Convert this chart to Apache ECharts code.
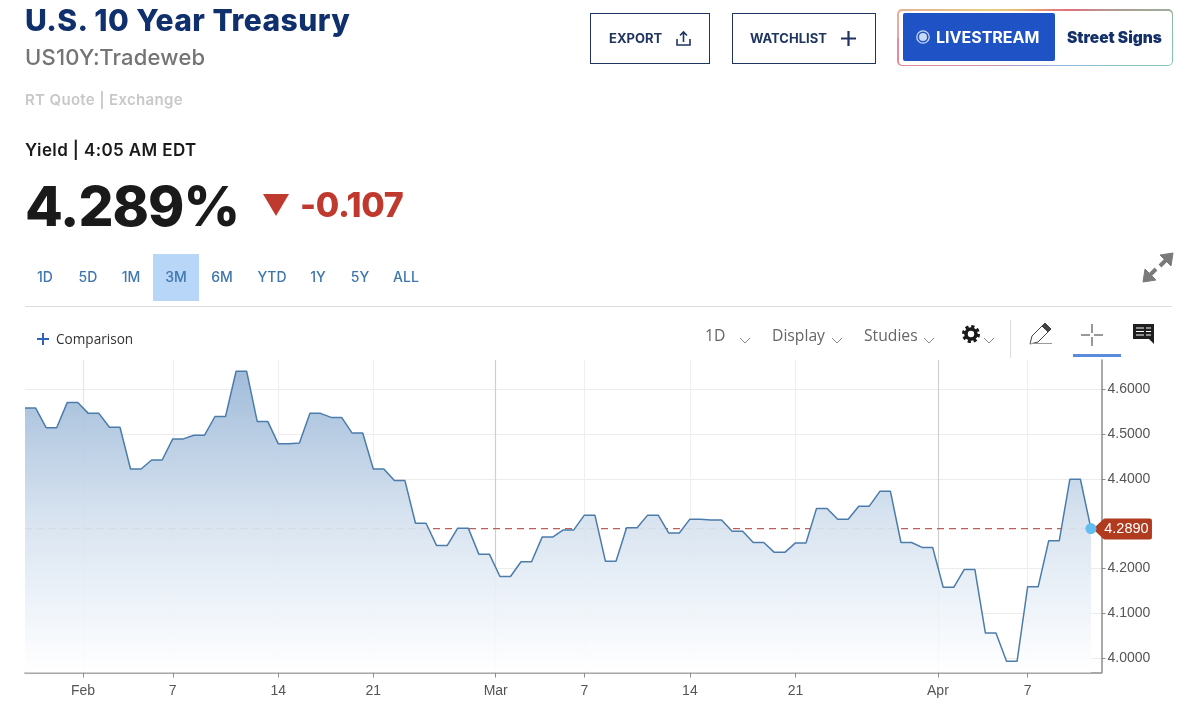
<!DOCTYPE html>
<html>
<head>
<meta charset="utf-8">
<title>U.S. 10 Year Treasury</title>
<script src="https://cdn.jsdelivr.net/npm/echarts@6/dist/echarts.min.js"></script>
<style>
  html, body { margin: 0; padding: 0; background: #fff; }
  #page { position: relative; width: 1200px; height: 714px; overflow: hidden; font-family: Inter, "Noto Sans", sans-serif; }
  #chart { position: absolute; left: 0; top: 0; width: 1200px; height: 714px; }
  .t { position: absolute; white-space: nowrap; line-height: 1; }
  .box { position: absolute; box-sizing: border-box; }
  svg { position: absolute; overflow: visible; }
  .range { position: absolute; top: 270px; font-size: 14px; font-weight: 500; color: #3f76ad; transform: translateX(-50%); line-height: 1; }
  .tool { position: absolute; top: 328px; font-size: 15.7px; color: #666; line-height: 1; font-family: "Open Sans", sans-serif; }
</style>
</head>
<body>
<div id="page">
  <div id="chart"></div>

  <!-- header -->
  <div class="t" style="left:25px;top:5px;font-size:30px;font-weight:800;color:#0f2f6d;letter-spacing:.45px">U.S. 10 Year Treasury</div>
  <div class="t" style="left:25px;top:46px;font-size:22px;font-weight:500;color:#747474;letter-spacing:.2px">US10Y:Tradeweb</div>
  <div class="t" style="left:25px;top:92px;font-size:15px;font-weight:600;color:#c8c8c8;letter-spacing:.33px">RT Quote | Exchange</div>
  <div class="t" style="left:25px;top:142px;font-size:17px;font-weight:600;color:#1a1a1a;letter-spacing:.38px">Yield | 4:05 AM EDT</div>
  <div class="t" style="left:25px;top:179px;font-size:55px;font-weight:800;color:#1a1a1a;letter-spacing:-1px">4.289%</div>
  <svg style="left:263px;top:194px" width="26" height="22"><path d="M0 0H26L13 22Z" fill="#c0392f"/></svg>
  <div class="t" style="left:300px;top:188px;font-size:34px;font-weight:800;color:#c0392f;letter-spacing:-.3px">-0.107</div>

  <!-- top buttons -->
  <div class="box" style="left:590px;top:13px;width:120px;height:51px;border:1.5px solid #1f3560"></div>
  <div class="t" style="left:609px;top:32px;font-size:13px;font-weight:700;color:#1f3560">EXPORT</div>
  <svg style="left:676px;top:31px" width="15" height="15" fill="none" stroke="#1f3560" stroke-width="1.6"><path d="M7.5 11V1M4 4.5L7.5 1L11 4.5M1 8V14H14V8"/></svg>
  <div class="box" style="left:732px;top:13px;width:144px;height:51px;border:1.5px solid #1f3560"></div>
  <div class="t" style="left:750px;top:32px;font-size:13px;font-weight:700;color:#1f3560">WATCHLIST</div>
  <svg style="left:841px;top:31px" width="15" height="15" stroke="#1f3560" stroke-width="2.2"><path d="M7.5 0V15M0 7.5H15"/></svg>
  <div class="box" style="left:897px;top:9px;width:276px;height:57px;border-radius:5px;padding:1.5px;background:conic-gradient(from 270deg,#e9a3a8,#e8cf7a 8%,#e8a070 25%,#e0707e 40%,#7fc8a8 50%,#8fb8e0 60%,#a0a0d8 80%,#e48a9a 97%)">
    <div style="width:100%;height:100%;background:#fff;border-radius:4px"></div>
  </div>
  <div class="box" style="left:903px;top:13px;width:152px;height:48px;background:#1f52c4;border-radius:2px"></div>
  <svg style="left:916px;top:30px" width="14" height="14"><circle cx="7" cy="7" r="6.2" fill="none" stroke="#c9d8f5" stroke-width="1.3"/><circle cx="7" cy="7" r="4" fill="#c9d8f5"/></svg>
  <div class="t" style="left:936px;top:29px;font-size:16px;font-weight:700;color:#fff">LIVESTREAM</div>
  <div class="t" style="left:1067px;top:30px;font-size:15.5px;font-weight:900;color:#14306a">Street Signs</div>

  <!-- range selector -->
  <div class="box" style="left:153px;top:254px;width:46px;height:47px;background:#b8d6f8"></div>
  <div class="range" style="left:45px">1D</div>
  <div class="range" style="left:88px">5D</div>
  <div class="range" style="left:131px">1M</div>
  <div class="range" style="left:176px">3M</div>
  <div class="range" style="left:222px">6M</div>
  <div class="range" style="left:272px">YTD</div>
  <div class="range" style="left:318px">1Y</div>
  <div class="range" style="left:360px">5Y</div>
  <div class="range" style="left:406px">ALL</div>
  <svg style="left:1143px;top:253px" width="31" height="29" fill="#7a7a7a" stroke="#7a7a7a"><path d="M30 0L17 2L28 13ZM0 29L2 16L13 27Z" stroke-width="1"/><path d="M23 7L17 13M7 22L13 16" stroke-width="4" fill="none"/></svg>
  <div class="box" style="left:25px;top:306px;width:1147px;height:1px;background:#dcdcdc"></div>

  <!-- chart toolbar -->
  <svg style="left:37px;top:333px" width="12" height="12" stroke="#2f62b8" stroke-width="2"><path d="M6 0V12M0 6H12"/></svg>
  <div class="t" style="left:56px;top:332px;font-size:13.6px;color:#333;font-family:'Open Sans',sans-serif">Comparison</div>
  <div class="tool" style="left:705px">1D</div>
  <div class="tool" style="left:772px">Display</div>
  <div class="tool" style="left:864px">Studies</div>
  <svg style="left:0;top:0" width="1200" height="360" fill="none" stroke="#8a8a8a" stroke-width="1">
    <path d="M740 338L745 343L750 338M832 338L837 343L842 338M924 338L929 343L934 338M984 338L989 343L994 338"/>
    <path d="M1010.5 320V358" stroke="#dcdcdc"/>
    <path d="M1092 324V333M1092 337V346M1081 335H1090M1094 335H1103" stroke="#333"/>
    <path d="M1030 344L1032 336L1045 323L1051 329L1038 342L1030 344" stroke="#444"/>
    <path d="M1045 323L1051 329L1048 332L1042 326Z" fill="#444" stroke="#444"/>
    <path d="M1030 343.5H1052" stroke="#999"/>
  </svg>
  <svg style="left:962px;top:325px" width="18" height="18"><circle cx="9" cy="9" r="5" fill="none" stroke="#1a1a1a" stroke-width="3.6"/><circle cx="9" cy="9" r="7.5" fill="none" stroke="#1a1a1a" stroke-width="3" stroke-dasharray="3.2 2.69"/></svg>
  <svg style="left:1133px;top:324px" width="21" height="20"><path d="M0 0H21V20L16 15H0Z" fill="#1f1f1f"/><path d="M3 4H11M3 7.5H11M3 11H11M13 4H18M13 7.5H18M13 11H18" stroke="#fff" stroke-width="1"/></svg>
  <div class="box" style="left:1073px;top:354px;width:48px;height:3px;background:#5b8bdc"></div>
</div>

<script>
// closing yields, one point every half session
const yields = [
    4.558, 4.558, 4.514, 4.514, 4.570, 4.570, 4.546, 4.546, 4.515, 4.515,
    4.422, 4.422, 4.442, 4.442, 4.489, 4.489, 4.497, 4.497, 4.539, 4.539,
    4.640, 4.640, 4.528, 4.528, 4.478, 4.478, 4.480, 4.546, 4.546, 4.537,
    4.537, 4.502, 4.502, 4.422, 4.422, 4.396, 4.396, 4.301, 4.301, 4.251,
    4.251, 4.290, 4.290, 4.232, 4.232, 4.182, 4.182, 4.215, 4.215, 4.270,
    4.270, 4.286, 4.286, 4.319, 4.319, 4.216, 4.216, 4.291, 4.291, 4.319,
    4.319, 4.279, 4.279, 4.310, 4.310, 4.308, 4.308, 4.283, 4.283, 4.258,
    4.258, 4.236, 4.236, 4.257, 4.257, 4.334, 4.334, 4.310, 4.310, 4.339,
    4.339, 4.372, 4.372, 4.258, 4.258, 4.247, 4.247, 4.158, 4.158, 4.198,
    4.198, 4.056, 4.056, 3.993, 3.993, 4.159, 4.159, 4.262, 4.262, 4.399,
    4.399, 4.289
];
const lastPrice = 4.289;

// x ticks sit at point positions, month starts fall between points
const xTickPositions = [5.5, 14, 24, 33, 44.6, 53, 63, 73, 86.5, 95];
const xTickLabels = ['Feb', '7', '14', '21', 'Mar', '7', '14', '21', 'Apr', '7'];
const xLineColors = ['#e6e6e6', '#efefef', '#efefef', '#efefef', '#cfcfcf', '#efefef', '#efefef', '#efefef', '#cfcfcf', '#efefef'];
const yTicks = [4.0, 4.1, 4.2, 4.4, 4.5, 4.6];

const axisFont = { color: '#555', fontSize: 14, fontFamily: 'Liberation Sans' };
const lastIndex = yields.length - 1;

const chart = echarts.init(document.getElementById('chart'), null, { renderer: 'canvas' });
chart.setOption({
    animation: false,
    grid: { left: 25, right: 98.5, top: 360, bottom: 41.5 },
    xAxis: {
        type: 'value',
        min: 0,
        max: 102,
        axisLine: { onZero: false, lineStyle: { color: '#8c8c8c', width: 1.5 } },
        axisTick: { customValues: xTickPositions, length: 5, lineStyle: { color: '#8c8c8c' } },
        axisLabel: {
            ...axisFont,
            margin: 12,
            customValues: xTickPositions,
            formatter: v => xTickLabels[xTickPositions.indexOf(v)]
        },
        splitLine: { show: true, lineStyle: { color: xLineColors, width: 1.2 } }
    },
    yAxis: {
        type: 'value',
        position: 'right',
        min: 3.968,
        max: 4.665,
        axisLine: { show: true, onZero: false, lineStyle: { color: '#8c8c8c', width: 1.5 } },
        axisTick: { show: true, customValues: yTicks, length: 4, lineStyle: { color: '#8c8c8c' } },
        axisLabel: {
            ...axisFont,
            margin: 6,
            padding: [2, 0, 0, 0],
            customValues: yTicks,
            formatter: v => v.toFixed(4)
        },
        splitLine: { show: true, lineStyle: { color: '#ececec', width: 1.2 } }
    },
    series: [
        {
            // dashed last price, sits under the area fill
            type: 'line',
            z: 1,
            silent: true,
            symbol: 'none',
            data: [[0, lastPrice], [lastIndex, lastPrice]],
            lineStyle: { color: '#b9605a', width: 1.2, type: [7, 5] }
        },
        {
            type: 'line',
            z: 2,
            symbol: 'none',
            data: yields.map((v, i) => [i, v]),
            lineStyle: { color: '#4b7cab', width: 1.5 },
            areaStyle: {
                opacity: 1,
                color: {
                    type: 'linear', x: 0, y: 0, x2: 0, y2: 1,
                    colorStops: [
                        { offset: 0, color: 'rgba(156,184,216,0.95)' },
                        { offset: 0.5, color: 'rgba(214,226,239,0.93)' },
                        { offset: 0.8, color: 'rgba(239,244,250,0.93)' },
                        { offset: 1, color: 'rgba(255,255,255,0.93)' }
                    ]
                }
            },
            markPoint: {
                silent: true,
                animation: false,
                data: [
                    {
                        // price tag, pushed right of the last point
                        coord: [lastIndex, lastPrice],
                        symbol: 'path://M0 10.5L10 1Q11 0 12 0H57Q59 0 59 2V19Q59 21 57 21H12Q11 21 10 20Z',
                        symbolSize: [59, 21],
                        symbolOffset: [31.5, 0.5],
                        itemStyle: { color: '#b03b1f' },
                        value: lastPrice.toFixed(4),
                        label: { show: true, position: 'inside', offset: [4, 0], color: '#fff', fontSize: 14.5, fontFamily: 'Liberation Sans' }
                    },
                    {
                        coord: [lastIndex, lastPrice],
                        symbol: 'circle',
                        symbolSize: 11,
                        itemStyle: { color: '#62bdf0' },
                        label: { show: false }
                    }
                ]
            }
        }
    ]
});
</script>
</body>
</html>
